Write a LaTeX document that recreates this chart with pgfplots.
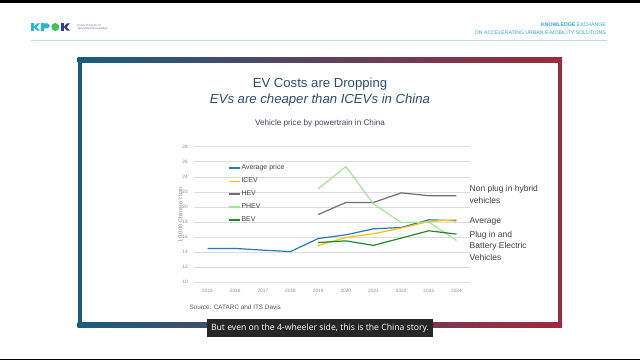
\documentclass[border=0pt]{standalone}
\usepackage{pgfplots}
\usepackage{pgfplotstable}
\pgfplotsset{compat=1.18}
\usepackage{fontspec}
\setmainfont{Liberation Sans}
\newfontfamily\capfont{Open Sans}
\definecolor{titleblue}{HTML}{2E4C73}
\definecolor{charttitle}{HTML}{44476A}
\definecolor{avgc}{HTML}{2A7AB9}
\definecolor{icevc}{HTML}{FFC000}
\definecolor{hevc}{HTML}{707070}
\definecolor{phevc}{HTML}{A6E39A}
\definecolor{bevc}{HTML}{1F8A2B}
\definecolor{gridc}{HTML}{DCDCDC}
\definecolor{tickc}{HTML}{8C8C8C}
\definecolor{legtext}{HTML}{404040}
\definecolor{anno}{HTML}{404040}
\definecolor{srcc}{HTML}{595959}
\definecolor{hdr}{HTML}{2BA3D6}
\definecolor{hdrline}{HTML}{B3DCEE}
\definecolor{frameL}{HTML}{1B5C7E}
\definecolor{frameR}{HTML}{9C2B3D}
\definecolor{capbg}{HTML}{262626}
\definecolor{logocyan}{HTML}{2BB5D5}
\definecolor{logogreen}{HTML}{3CC35A}
\definecolor{logoblue}{HTML}{2F3F8F}
\definecolor{logotext}{HTML}{6A7D99}

\pgfplotstableread{
year v
2015 14.48
2016 14.50
2017 14.27
2018 14.08
2019 15.81
2020 16.30
2021 17.10
2022 17.28
2023 18.30
2024 18.17
}\avgtable
\pgfplotstableread{
year v
2019 14.88
2020 15.95
2021 16.44
2022 17.20
2023 18.08
2024 18.30
}\icevtable
\pgfplotstableread{
year v
2019 19.00
2020 20.60
2021 20.60
2022 21.87
2023 21.50
2024 21.50
}\hevtable
\pgfplotstableread{
year v
2019 22.40
2020 25.37
2021 20.40
2022 17.95
2023 18.00
2024 15.55
}\phevtable
\pgfplotstableread{
year v
2019 15.28
2020 15.50
2021 14.90
2022 15.87
2023 16.84
2024 16.40
}\bevtable

\begin{document}
\begin{tikzpicture}[x=1bp,y=-1bp]
\useasboundingbox (0,0) rectangle (640,360);
\fill[white] (0,0) rectangle (640,360);
\fill[black] (0,0) rectangle (640,2.5);
\fill[black] (0,358.5) rectangle (640,360);

% header logo
\fill[logocyan] (31,23.3) rectangle (33.6,30.7);
\fill[logocyan] (33.6,27) -- (37,23.3) -- (40,23.3) -- (36.6,27) -- (40,30.7) -- (37,30.7) -- cycle;
\fill[logocyan] (41,23.3) rectangle (43.6,30.7);
\fill[logocyan, rounded corners=1.8] (42.5,23.3) rectangle (49.5,28.3);
\fill[logogreen] (55.3,27) circle (4);
\fill[logoblue] (61,23.3) rectangle (63.6,30.7);
\fill[logoblue] (63.6,27) -- (67,23.3) -- (70,23.3) -- (66.6,27) -- (70,30.7) -- (67,30.7) -- cycle;
\node[anchor=west, inner sep=0, font=\fontsize{2.9}{3.2}\selectfont, text=logotext] at (77.3,25.4) {Korea Program on};
\node[anchor=west, inner sep=0, font=\fontsize{2.9}{3.2}\selectfont, text=logotext] at (77.3,28.8) {Operational Knowledge};

% header right
\node[anchor=east, inner sep=0, font=\fontsize{5.2}{6}\selectfont, text=hdr] at (606,24.7) {\textbf{KNOWLEDGE} EXCHANGE};
\node[anchor=east, inner sep=0, font=\fontsize{5.2}{6}\selectfont, text=hdr] at (606,32.7) {ON ACCELERATING URBAN E-MOBILITY SOLUTIONS};
\draw[hdrline, line width=0.7] (31,40.6) -- (606.7,40.6);

% frame
\shade[left color=frameL, right color=frameR] (77.5,57.5) rectangle (562,62);
\shade[left color=frameL, right color=frameR] (77.5,322.7) rectangle (562,327.3);
\fill[frameL] (77.5,57.5) rectangle (82,327.3);
\fill[frameR] (557.5,57.5) rectangle (562,327.3);

% titles
\node[font=\fontsize{13.2}{15}\selectfont, text=titleblue] at (320,84.3) {EV Costs are Dropping};
\node[font=\fontsize{13.2}{15}\selectfont\itshape, text=titleblue] at (320,100.5) {EVs are cheaper than ICEVs in China};
\node[font=\fontsize{8.2}{10}\selectfont, text=charttitle] at (320,123.3) {Vehicle price by powertrain in China};

\begin{axis}[
  at={(193.7bp,-282.3bp)}, anchor=south west,
  scale only axis, width=276.6bp, height=135.6bp,
  xmin=2014.5, xmax=2024.5, ymin=10, ymax=28,
  xtick={2015,2016,...,2024}, ytick={10,12,...,28},
  ymajorgrids, grid style={color=gridc, line width=0.6bp},
  axis line style={draw=none}, major tick length=0pt,
  tick label style={font=\fontsize{4.8}{5}\selectfont, text=tickc},
  /pgf/number format/assume math mode=true,
  x tick label style={/pgf/number format/1000 sep={}, yshift=-3bp},
  y tick label style={xshift=-2.5bp},
  ylabel={10,000 Chinese Yuan},
  ylabel style={at={(axis description cs:-0.047,0.5)}, anchor=center, font=\fontsize{5.8}{6}\selectfont, text=tickc},
  legend style={at={(axis description cs:0.124,0.875)}, anchor=north west, draw=none, fill=none,
    font=\fontsize{7}{8}\selectfont, text=legtext, row sep=4.6bp, inner sep=0pt,
    nodes={inner sep=1bp}},
  legend cell align=left,
  legend image code/.code={\draw[#1, line width=1.3bp] (0bp,0bp) -- (11bp,0bp);},
]
\addplot[avgc, line width=1.2bp] table[x=year,y=v]{\avgtable};
\addlegendentry{Average price}
\addplot[icevc, line width=1.2bp] table[x=year,y=v]{\icevtable};
\addlegendentry{ICEV}
\addplot[hevc, line width=1.2bp] table[x=year,y=v]{\hevtable};
\addlegendentry{HEV}
\addplot[phevc, line width=1.2bp] table[x=year,y=v]{\phevtable};
\addlegendentry{PHEV}
\addplot[bevc, line width=1.2bp] table[x=year,y=v]{\bevtable};
\addlegendentry{BEV}
\end{axis}

% annotations
\begin{scope}[every node/.style={anchor=west, inner sep=0, font=\fontsize{8.5}{10}\selectfont, text=anno}]
\node at (469.5,189.3) {Non plug in hybrid};
\node at (469.5,200.7) {vehicles};
\node at (469.5,221) {Average};
\node at (469.5,235) {Plug in and};
\node at (469.5,246) {Battery Electric};
\node at (469.5,257) {Vehicles};
\end{scope}

% source
\node[anchor=west, inner sep=0, font=\fontsize{6.4}{7}\selectfont, text=srcc] at (189.3,307.7) {Source: CATARC and ITS Davis};

% caption
\fill[capbg] (206.7,319.3) rectangle (433.3,336.7);
\node[text=white, inner sep=0, font=\capfont\fontsize{8.7}{10}\selectfont] at (320,328) {But even on the 4-wheeler side, this is the China story.};
\end{tikzpicture}
\end{document}
